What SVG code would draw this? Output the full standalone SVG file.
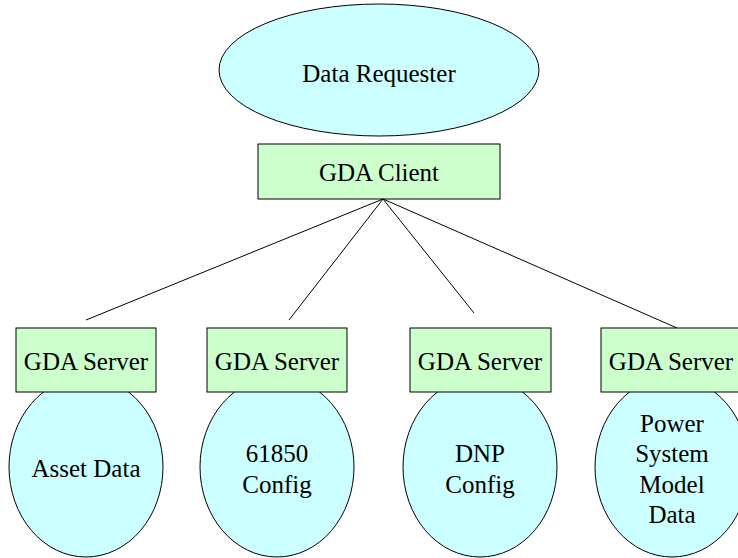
<svg xmlns="http://www.w3.org/2000/svg" width="738" height="558" viewBox="0 0 738 558">
<style>
.ell{fill:#CCFFFF;stroke:#000;stroke-width:1}
.box{fill:#CCFFCC;stroke:#000;stroke-width:1}
text{font-family:"Liberation Serif","Times New Roman",Times,serif;font-size:25px;fill:#000;text-anchor:middle}
.ln{stroke:#000;stroke-width:1;fill:none}
</style>
<rect width="738" height="558" fill="#fff"/>
<g id="data-requester">
<ellipse class="ell" cx="379" cy="70" rx="160" ry="66"/>
<text x="379" y="82">Data Requester</text>
</g>
<g id="gda-client">
<rect class="box" x="258" y="144" width="242" height="55"/>
<text x="379" y="181">GDA Client</text>
</g>
<g id="connectors">
<line class="ln" x1="383" y1="199" x2="86" y2="320"/>
<line class="ln" x1="383" y1="199" x2="289" y2="320"/>
<line class="ln" x1="383" y1="199" x2="474" y2="313"/>
<line class="ln" x1="383" y1="199" x2="677" y2="328"/>
</g>
<g id="asset-data">
<ellipse class="ell" cx="86" cy="467" rx="77" ry="90"/>
<text x="86" y="477">Asset Data</text>
</g>
<g id="config-61850">
<ellipse class="ell" cx="277" cy="467" rx="77" ry="90"/>
<text x="277" y="462">61850</text>
<text x="277" y="493">Config</text>
</g>
<g id="dnp-config">
<ellipse class="ell" cx="480" cy="467" rx="77" ry="90"/>
<text x="480" y="462">DNP</text>
<text x="480" y="493">Config</text>
</g>
<g id="power-system-model-data">
<ellipse class="ell" cx="672" cy="467" rx="77" ry="90"/>
<text x="672" y="432">Power</text>
<text x="672" y="462">System</text>
<text x="672" y="493">Model</text>
<text x="672" y="523">Data</text>
</g>
<g id="gda-server-1">
<rect class="box" x="16" y="328" width="140" height="64"/>
<text x="86" y="370">GDA Server</text>
</g>
<g id="gda-server-2">
<rect class="box" x="207" y="328" width="140" height="64"/>
<text x="277" y="370">GDA Server</text>
</g>
<g id="gda-server-3">
<rect class="box" x="410" y="328" width="141" height="64"/>
<text x="480" y="370">GDA Server</text>
</g>
<g id="gda-server-4">
<rect class="box" x="601" y="328" width="140" height="64"/>
<text x="671" y="370">GDA Server</text>
</g>
</svg>
